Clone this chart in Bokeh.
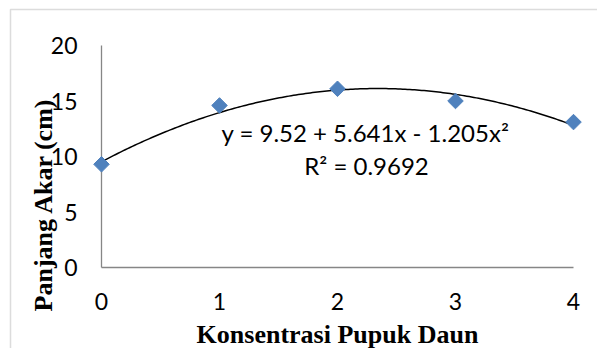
import math
import numpy as np
from bokeh.plotting import figure
from bokeh.models import Range1d, FixedTicker, BoxAnnotation, Label
from bokeh.embed import file_html
from bokeh.resources import INLINE

# ---- data ----
konsentrasi = [0, 1, 2, 3, 4]
panjang_akar = [9.3, 14.6, 16.1, 15.0, 13.1]
trend_coef = [9.52, 5.641, -1.205]          # y = a0 + a1 x + a2 x^2
x_ticks = [0, 1, 2, 3, 4]
y_ticks = [0, 5, 10, 15, 20]
eq_text = "y = 9.52 + 5.641x - 1.205x\u00b2"
r2_text = "R\u00b2 = 0.9692"
x_title = "Konsentrasi Pupuk Daun"
y_title = "Panjang Akar (cm)"

# ---- layout (pixels) ----
W, H = 597, 348
X0_PX, X4_PX = 101, 573      # screen x of x=0 and x=4
Y0_PX, Y20_PX = 267, 45      # screen y of y=0 and y=20
sx = (X4_PX - X0_PX) / 4.0
sy = (Y0_PX - Y20_PX) / 20.0

def dx(px):
    return (px - X0_PX) / sx

def dy(py):
    return (Y0_PX - py) / sy

p = figure(width=W, height=H, output_backend="svg", toolbar_location=None,
           x_range=Range1d(dx(0), dx(W)), y_range=Range1d(dy(H), dy(0)),
           min_border=0)
p.min_border_left = p.min_border_right = p.min_border_top = p.min_border_bottom = 0
p.background_fill_color = "white"
p.border_fill_color = "white"
p.outline_line_color = None
p.xgrid.visible = False
p.ygrid.visible = False

for ax in (p.xaxis[0], p.yaxis[0]):
    ax.fixed_location = 0
    ax.axis_line_color = None
    ax.major_tick_line_color = None
    ax.minor_tick_line_color = None
    ax.major_tick_out = 0
    ax.major_tick_in = 0
    ax.major_label_text_font = "Lato"
    ax.major_label_text_font_size = "23px"
    ax.major_label_text_color = "black"

p.xaxis.ticker = FixedTicker(ticks=x_ticks)
p.yaxis.ticker = FixedTicker(ticks=y_ticks)
p.xaxis.major_label_standoff = 25
p.yaxis.major_label_standoff = 24

# axis lines drawn within data
p.segment(x0=[x_ticks[0], x_ticks[0]], y0=[y_ticks[0], y_ticks[0]],
          x1=[x_ticks[-1], x_ticks[0]], y1=[y_ticks[0], y_ticks[-1]],
          line_color="#868686", line_width=1.3)

# trendline
xs = np.linspace(konsentrasi[0], konsentrasi[-1], 200)
ys = trend_coef[0] + trend_coef[1] * xs + trend_coef[2] * xs ** 2
p.line(xs, ys, line_color="black", line_width=1.5)

# points
p.scatter(konsentrasi, panjang_akar, marker="square", angle=math.pi / 4, size=11,
          fill_color="#4F81BD", line_color="#4F81BD")

# equation
p.add_layout(Label(x=dx(365), y=dy(132), text=eq_text, text_align="center",
                   text_baseline="alphabetic", text_font="Lato", text_font_size="24px",
                   text_color="black"))
p.add_layout(Label(x=dx(366), y=dy(165), text=r2_text, text_align="center",
                   text_baseline="alphabetic", text_font="Lato", text_font_size="24px",
                   text_color="black"))

# axis titles
p.add_layout(Label(x=dx(337), y=dy(334), text=x_title, text_align="center",
                   text_baseline="alphabetic", text_font="Liberation Serif",
                   text_font_style="bold", text_font_size="26px", text_color="black"))
p.add_layout(Label(x=dx(43), y=dy(204), text=y_title, angle=math.pi / 2,
                   text_align="center", text_baseline="alphabetic",
                   text_font="Liberation Serif", text_font_style="bold",
                   text_font_size="26px", text_color="black"))

# outer chart border
p.add_layout(BoxAnnotation(left=dx(10), right=dx(W + 200), top=dy(9), bottom=dy(H + 200),
                           fill_color=None, line_color="#8a8a8a", line_width=1.5))

open("out.html", "w").write(file_html(p, INLINE))
